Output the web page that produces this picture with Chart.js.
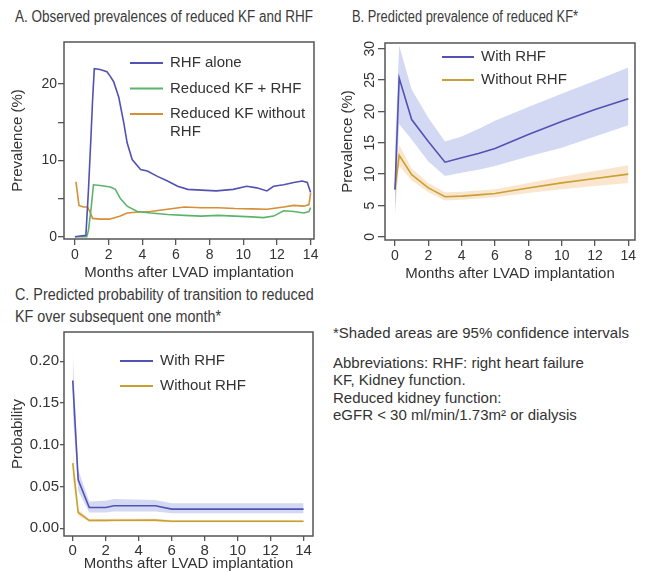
<!DOCTYPE html>
<html>
<head>
<meta charset="utf-8">
<script src="https://cdn.jsdelivr.net/npm/chart.js@4.4.1/dist/chart.umd.min.js"></script>
<style>
  body { margin: 0; background: #fff; width: 646px; height: 571px; overflow: hidden; position: relative; }
  .ttl { position: absolute; font-family: "Liberation Sans", Arial, sans-serif; font-size: 16px; color: #3a3a3a; white-space: nowrap; line-height: 22px; transform-origin: 0 0; }
  .box { position: absolute; }
  .note { position: absolute; left: 333px; font-family: "Liberation Sans", Arial, sans-serif; font-size: 15px; line-height: 17.3px; color: #333; white-space: nowrap; }
</style>
</head>
<body>
<div class="ttl" data-w="298" style="left:15px;top:6px">A. Observed prevalences of reduced KF and RHF</div>
<div class="ttl" data-w="226" style="left:352px;top:6px">B. Predicted prevalence of reduced KF*</div>
<div class="ttl" data-w="299" style="left:15px;top:284px">C. Predicted probability of transition to reduced<br>KF over subsequent one month*</div>

<div class="box" style="left:0;top:30px"><canvas id="chartA" width="323" height="255"></canvas></div>
<div class="box" style="left:323px;top:30px"><canvas id="chartB" width="323" height="255"></canvas></div>
<div class="box" style="left:0;top:320px"><canvas id="chartC" width="323" height="260"></canvas></div>

<div class="note" style="top:324px">*Shaded areas are 95% confidence intervals</div>
<div class="note" style="top:354px">Abbreviations: RHF: right heart failure<br>KF, Kidney function.<br>Reduced kidney function:<br>eGFR &lt; 30 ml/min/1.73m² or dialysis</div>

<script>
// ---- panel A: observed prevalences (%) ----
const rhfAloneMonths = [0, 0.65, 0.8, 0.95, 1.05, 1.15, 1.5, 1.9, 2.1, 2.3, 2.6, 2.9, 3.1, 3.4, 3.9, 4.3, 4.9, 5.5, 6.1, 6.7, 7.5, 8.4, 9.4, 10.2, 10.8, 11.4, 11.8, 12.4, 13.0, 13.5, 13.8, 14.0];
const rhfAloneValues = [0, 0.2, 6, 13, 18, 22.0, 21.9, 21.6, 21.0, 20.3, 18.3, 14.9, 12.3, 10.1, 8.8, 8.6, 7.9, 7.3, 6.6, 6.2, 6.1, 6.0, 6.2, 6.6, 6.4, 6.0, 6.6, 6.8, 7.1, 7.3, 7.1, 5.8];
const kfRhfMonths = [0, 0.7, 0.8, 0.95, 1.1, 1.5, 2.1, 2.4, 2.7, 3.1, 3.7, 4.5, 5.5, 6.5, 7.5, 8.5, 9.5, 10.5, 11.2, 11.8, 12.4, 13.0, 13.6, 13.9, 14.0];
const kfRhfValues = [0, 0, 0.8, 3.5, 6.8, 6.7, 6.5, 6.2, 5.0, 4.0, 3.3, 3.1, 2.9, 2.8, 2.7, 2.8, 2.7, 2.6, 2.5, 2.7, 3.4, 3.3, 3.1, 3.3, 3.8];
const kfNoRhfMonths = [0.06, 0.24, 0.5, 0.75, 0.9, 1.05, 1.5, 2.05, 2.7, 3.1, 3.6, 4.5, 5.5, 6.5, 7.5, 8.5, 9.5, 10.5, 11.4, 12.4, 13.0, 13.6, 13.9, 14.0];
const kfNoRhfValues = [7.2, 4.1, 3.9, 3.9, 3.2, 2.4, 2.3, 2.3, 2.7, 3.1, 3.2, 3.3, 3.6, 3.9, 3.8, 3.8, 3.7, 3.65, 3.6, 3.9, 4.1, 4.0, 4.2, 5.7];

// ---- panel B: predicted prevalence (%) ----
const bMonths = [0, 0.25, 1, 2, 3, 4, 5, 6, 8, 10, 12, 14];
const bWithRhf = [7.5, 25.3, 18.7, 15.2, 11.9, 12.6, 13.3, 14.1, 16.3, 18.4, 20.3, 22.0];
const bWithRhfLow = [3.5, 18.0, 15.5, 12.0, 9.7, 10.2, 10.7, 11.3, 12.8, 14.2, 16.0, 17.8];
const bWithRhfHigh = [14.0, 30.5, 23.5, 19.0, 15.2, 16.0, 17.2, 18.5, 20.7, 22.8, 24.9, 27.0];
const bWithoutRhf = [7.6, 13.0, 9.9, 7.8, 6.4, 6.5, 6.7, 6.9, 7.8, 8.6, 9.3, 10.0];
const bWithoutRhfLow = [4.0, 11.3, 9.0, 7.1, 5.8, 5.9, 6.1, 6.3, 7.0, 7.6, 8.1, 8.6];
const bWithoutRhfHigh = [11.0, 14.7, 10.9, 8.6, 7.1, 7.2, 7.4, 7.6, 8.6, 9.6, 10.5, 11.4];

// ---- panel C: predicted probability of transition ----
const cMonths = [0, 0.33, 1, 2, 2.5, 5, 6, 14];
const cWithRhf = [0.177, 0.058, 0.025, 0.025, 0.027, 0.027, 0.023, 0.023];
const cWithRhfLow = [0.14, 0.045, 0.019, 0.019, 0.020, 0.020, 0.018, 0.018];
const cWithRhfHigh = [0.21, 0.070, 0.032, 0.033, 0.035, 0.034, 0.030, 0.030];
const cWithoutRhf = [0.078, 0.019, 0.0095, 0.0095, 0.0097, 0.0098, 0.0085, 0.0085];
const cWithoutRhfLow = [0.060, 0.015, 0.008, 0.008, 0.008, 0.008, 0.007, 0.007];
const cWithoutRhfHigh = [0.095, 0.023, 0.011, 0.011, 0.0115, 0.0115, 0.010, 0.010];

// ticks
const monthTicks = [0, 2, 4, 6, 8, 10, 12, 14];
const prevTicksA = [0, 5, 10, 15, 20];
const prevTicksB = [0, 5, 10, 15, 20, 25, 30];
const probTicks = [0, 0.05, 0.10, 0.15, 0.20];

const SANS = '"Liberation Sans", Arial, sans-serif';
const TXT = '#333';
const FRAME = '#555';
const BLUE = '#5252b4';
const GREEN = '#5cb46a';
const ORANGE = '#d68f35';
const GOLD = '#c9a032';
const BLUE_BAND = 'rgba(120,140,215,0.33)';
const GOLD_BAND = 'rgba(240,180,110,0.33)';

// squeeze the panel titles to the condensed width of the original
document.querySelectorAll('.ttl').forEach(el => {
  el.style.transform = 'scaleX(' + (el.dataset.w / el.offsetWidth) + ')';
});

Chart.defaults.animation = false;
Chart.defaults.font.family = SANS;

const pts = (xs, ys) => xs.map((x, i) => ({ x: x, y: ys[i] }));

const line = (label, xs, ys, color) => ({
  label: label, data: pts(xs, ys), borderColor: color, borderWidth: 1.6,
  pointRadius: 0, tension: 0, fill: false
});
const bandLow = (xs, ys) => ({ data: pts(xs, ys), borderWidth: 0, pointRadius: 0, fill: false });
const bandHigh = (xs, ys, color) => ({ data: pts(xs, ys), borderWidth: 0, pointRadius: 0, fill: '-1', backgroundColor: color });

// frame around plot region + hand placed legend
const framePlugin = {
  id: 'frame',
  afterDatasetsDraw(chart) {
    const a = chart.chartArea, ctx = chart.ctx;
    ctx.save();
    ctx.strokeStyle = FRAME;
    ctx.lineWidth = 1.5;
    ctx.strokeRect(a.left, a.top, a.right - a.left, a.bottom - a.top);
    ctx.restore();
  }
};

const legendPlugin = {
  id: 'panelLegend',
  afterDraw(chart, args, opts) {
    if (!opts.items) return;
    const ctx = chart.ctx;
    ctx.save();
    ctx.font = '15px ' + SANS;
    ctx.textBaseline = 'middle';
    ctx.fillStyle = TXT;
    opts.items.forEach((it, i) => {
      const y = opts.y + i * opts.gap;
      ctx.strokeStyle = it.color;
      ctx.lineWidth = 2;
      ctx.beginPath();
      ctx.moveTo(opts.x, y);
      ctx.lineTo(opts.x + opts.len, y);
      ctx.stroke();
      [].concat(it.label).forEach((t, j) => ctx.fillText(t, opts.x + opts.len + 7, y + j * 18));
    });
    ctx.restore();
  }
};

// rotated y tick labels (panel B)
const rotLabelsPlugin = {
  id: 'rotLabels',
  afterDraw(chart, args, opts) {
    if (!opts.x) return;
    const s = chart.scales.y, ctx = chart.ctx;
    ctx.save();
    ctx.font = '14px ' + SANS;
    ctx.fillStyle = TXT;
    ctx.textAlign = 'center';
    ctx.textBaseline = 'middle';
    s.ticks.forEach(t => {
      ctx.save();
      ctx.translate(opts.x, s.getPixelForValue(t.value));
      ctx.rotate(-Math.PI / 2);
      ctx.fillText(String(t.value), 0, 0);
      ctx.restore();
    });
    ctx.restore();
  }
};

Chart.register(framePlugin, legendPlugin, rotLabelsPlugin);

function axis(o) {
  return {
    type: 'linear', min: o.min, max: o.max,
    afterBuildTicks: s => { s.ticks = o.ticks.map(v => ({ value: v })); },
    afterFit: s => { if (o.w) s.width = o.w; if (o.h) s.height = o.h; },
    border: { display: false },
    grid: { drawOnChartArea: false, drawTicks: true, tickLength: o.tl || 5, color: FRAME, lineWidth: 1.3 },
    ticks: {
      display: o.showLabels !== false, autoSkip: false, maxRotation: 0, color: TXT,
      font: { size: o.fs || 14 }, padding: o.pad == null ? 3 : o.pad,
      callback: o.fmt || (v => v)
    },
    title: { display: true, text: o.title, color: TXT, font: { size: 15 }, padding: o.tpad }
  };
}

function opts(o) {
  return {
    responsive: false,
    layout: { padding: o.padding },
    plugins: {
      legend: { display: false }, tooltip: { enabled: false },
      panelLegend: o.legend, rotLabels: o.rot || {}
    },
    scales: { x: o.x, y: o.y }
  };
}

// A
new Chart(document.getElementById('chartA'), {
  type: 'line',
  data: {
    datasets: [
      line('RHF alone', rhfAloneMonths, rhfAloneValues, BLUE),
      line('Reduced KF + RHF', kfRhfMonths, kfRhfValues, GREEN),
      line('Reduced KF without RHF', kfNoRhfMonths, kfNoRhfValues, ORANGE)
    ]
  },
  options: opts({
    padding: { left: 0, top: 12, right: 9, bottom: 0 },
    x: axis({ min: -0.65, max: 14.2, ticks: monthTicks, h: 46, tl: 6, pad: 2, title: 'Months after LVAD implantation', tpad: { bottom: 3 } }),
    y: axis({ min: -0.3, max: 25.5, ticks: prevTicksA, w: 64, tl: 6, pad: 1, title: 'Prevalence (%)', tpad: { top: 9 },
              fmt: v => (v % 10 === 0 ? v : '') }),
    legend: { x: 130, y: 33, gap: 25.5, len: 33, items: [
      { label: 'RHF alone', color: BLUE },
      { label: 'Reduced KF + RHF', color: GREEN },
      { label: ['Reduced KF without', 'RHF'], color: ORANGE }
    ] }
  })
});

// B
new Chart(document.getElementById('chartB'), {
  type: 'line',
  data: {
    datasets: [
      line('With RHF', bMonths, bWithRhf, BLUE),
      line('Without RHF', bMonths, bWithoutRhf, GOLD),
      bandLow(bMonths, bWithRhfLow),
      bandHigh(bMonths, bWithRhfHigh, BLUE_BAND),
      bandLow(bMonths, bWithoutRhfLow),
      bandHigh(bMonths, bWithoutRhfHigh, GOLD_BAND)
    ]
  },
  options: opts({
    padding: { left: 0, top: 13, right: 11, bottom: 0 },
    x: axis({ min: -0.6, max: 14.4, ticks: monthTicks, h: 45, tl: 6, pad: 2, title: 'Months after LVAD implantation', tpad: { bottom: 2 } }),
    y: axis({ min: -0.5, max: 30.9, ticks: prevTicksB, w: 62, tl: 7, showLabels: false, title: 'Prevalence (%)', tpad: { top: 16 } }),
    rot: { x: 47.5 },
    legend: { x: 119, y: 27, gap: 23, len: 32, items: [
      { label: 'With RHF', color: BLUE },
      { label: 'Without RHF', color: GOLD }
    ] }
  })
});

// C
new Chart(document.getElementById('chartC'), {
  type: 'line',
  data: {
    datasets: [
      line('With RHF', cMonths, cWithRhf, BLUE),
      line('Without RHF', cMonths, cWithoutRhf, GOLD),
      bandLow(cMonths, cWithRhfLow),
      bandHigh(cMonths, cWithRhfHigh, BLUE_BAND),
      bandLow(cMonths, cWithoutRhfLow),
      bandHigh(cMonths, cWithoutRhfHigh, GOLD_BAND)
    ]
  },
  options: opts({
    padding: { left: 0, top: 12, right: 10, bottom: 0 },
    x: axis({ min: -0.53, max: 14.57, ticks: monthTicks, h: 44, tl: 5, pad: 1, fs: 15, title: 'Months after LVAD implantation', tpad: { bottom: 7 } }),
    y: axis({ min: -0.0092, max: 0.235, ticks: probTicks, w: 64, tl: 4, pad: 1, fs: 15, title: 'Probability', tpad: { top: 9 },
              fmt: v => v.toFixed(2) }),
    legend: { x: 120, y: 41, gap: 25, len: 33, items: [
      { label: 'With RHF', color: BLUE },
      { label: 'Without RHF', color: GOLD }
    ] }
  })
});
</script>
</body>
</html>
